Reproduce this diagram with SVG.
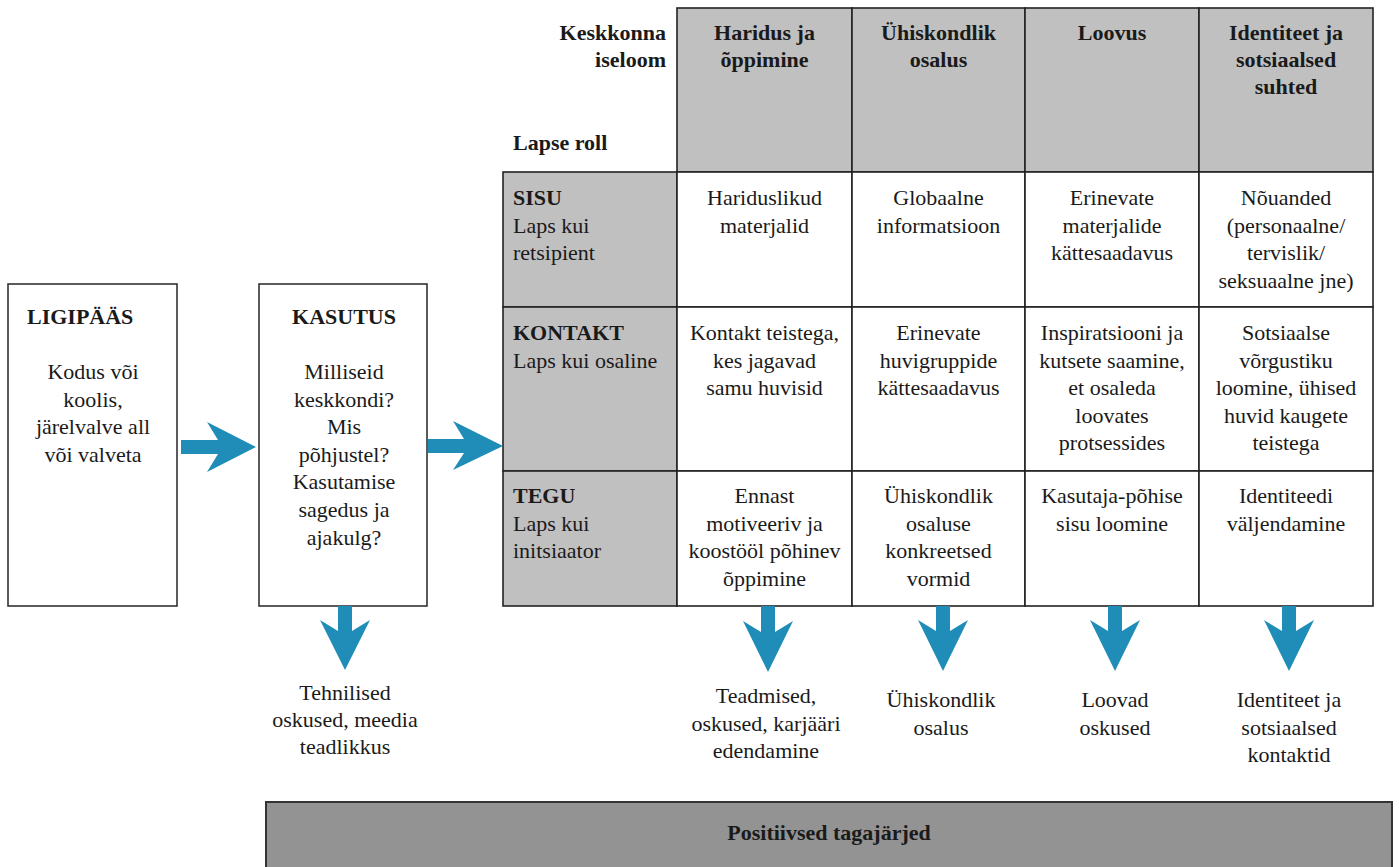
<svg xmlns="http://www.w3.org/2000/svg" width="1399" height="867" viewBox="0 0 1399 867">
  <style>
    text { font-family: "Liberation Serif", "Times New Roman", serif; font-size: 22px; fill: #1a1a1a; }
    .b { font-weight: bold; }
    .c { text-anchor: middle; }
    .r { text-anchor: end; }
    .box { fill: #ffffff; stroke: #333333; stroke-width: 1.6; }
    .hd { fill: #c0c0c0; stroke: #222222; stroke-width: 1.6; }
    .cell { fill: #ffffff; stroke: #222222; stroke-width: 1.6; }
    .pos { fill: #939393; stroke: #333333; stroke-width: 2; }
    .arr { fill: #1f8db7; stroke: none; }
  </style>

  <!-- Access box -->
  <g id="node-ligipaas">
    <rect class="box" x="8" y="284" width="169" height="322"/>
    <text class="b" x="27" y="324">LIGIPÄÄS</text>
    <text class="c" x="93" y="379">Kodus või</text>
    <text class="c" x="93" y="406.5">koolis,</text>
    <text class="c" x="93" y="434">järelvalve all</text>
    <text class="c" x="93" y="461.5">või valveta</text>
  </g>

  <!-- Use box -->
  <g id="node-kasutus">
    <rect class="box" x="259" y="284" width="168" height="322"/>
    <text class="b c" x="344" y="324">KASUTUS</text>
    <text class="c" x="344" y="379">Milliseid</text>
    <text class="c" x="344" y="406.6">keskkondi?</text>
    <text class="c" x="344" y="434.2">Mis</text>
    <text class="c" x="344" y="461.8">põhjustel?</text>
    <text class="c" x="344" y="489.4">Kasutamise</text>
    <text class="c" x="344" y="517">sagedus ja</text>
    <text class="c" x="344" y="544.6">ajakulg?</text>
  </g>

  <!-- Table -->
  <g id="node-table">
    <g id="corner">
      <text class="b r" x="666" y="40">Keskkonna</text>
      <text class="b r" x="666" y="67">iseloom</text>
      <text class="b" x="513" y="150">Lapse roll</text>
    </g>
    <g id="hdr-haridus">
      <rect class="hd" x="677" y="8" width="175" height="164"/>
      <text class="b c" x="764.5" y="40">Haridus ja</text>
      <text class="b c" x="764.5" y="67">õppimine</text>
    </g>
    <g id="hdr-uhiskondlik">
      <rect class="hd" x="852" y="8" width="173" height="164"/>
      <text class="b c" x="938.5" y="40">Ühiskondlik</text>
      <text class="b c" x="938.5" y="67">osalus</text>
    </g>
    <g id="hdr-loovus">
      <rect class="hd" x="1025" y="8" width="174" height="164"/>
      <text class="b c" x="1112" y="40">Loovus</text>
    </g>
    <g id="hdr-identiteet">
      <rect class="hd" x="1199" y="8" width="174" height="164"/>
      <text class="b c" x="1286" y="40">Identiteet ja</text>
      <text class="b c" x="1286" y="67">sotsiaalsed</text>
      <text class="b c" x="1286" y="94">suhted</text>
    </g>

    <g id="row-sisu">
      <rect class="hd" x="503" y="172" width="174" height="135"/>
      <text class="b" x="513" y="205">SISU</text>
      <text x="513" y="232.5">Laps kui</text>
      <text x="513" y="260">retsipient</text>
    </g>
    <g id="row-kontakt">
      <rect class="hd" x="503" y="307" width="174" height="164"/>
      <text class="b" x="513" y="340">KONTAKT</text>
      <text x="513" y="367.5">Laps kui osaline</text>
    </g>
    <g id="row-tegu">
      <rect class="hd" x="503" y="471" width="174" height="135"/>
      <text class="b" x="513" y="503">TEGU</text>
      <text x="513" y="530.5">Laps kui</text>
      <text x="513" y="558">initsiaator</text>
    </g>

    <!-- SISU row cells -->
    <g id="cell-1-1">
      <rect class="cell" x="677" y="172" width="175" height="135"/>
      <text class="c" x="764.5" y="205">Hariduslikud</text>
      <text class="c" x="764.5" y="232.5">materjalid</text>
    </g>
    <g id="cell-1-2">
      <rect class="cell" x="852" y="172" width="173" height="135"/>
      <text class="c" x="938.5" y="205">Globaalne</text>
      <text class="c" x="938.5" y="232.5">informatsioon</text>
    </g>
    <g id="cell-1-3">
      <rect class="cell" x="1025" y="172" width="174" height="135"/>
      <text class="c" x="1112" y="205">Erinevate</text>
      <text class="c" x="1112" y="232.5">materjalide</text>
      <text class="c" x="1112" y="260">kättesaadavus</text>
    </g>
    <g id="cell-1-4">
      <rect class="cell" x="1199" y="172" width="174" height="135"/>
      <text class="c" x="1286" y="205">Nõuanded</text>
      <text class="c" x="1286" y="232.5">(personaalne/</text>
      <text class="c" x="1286" y="260">tervislik/</text>
      <text class="c" x="1286" y="287.5">seksuaalne jne)</text>
    </g>

    <!-- KONTAKT row cells -->
    <g id="cell-2-1">
      <rect class="cell" x="677" y="307" width="175" height="164"/>
      <text class="c" x="764.5" y="340">Kontakt teistega,</text>
      <text class="c" x="764.5" y="367.5">kes jagavad</text>
      <text class="c" x="764.5" y="395">samu huvisid</text>
    </g>
    <g id="cell-2-2">
      <rect class="cell" x="852" y="307" width="173" height="164"/>
      <text class="c" x="938.5" y="340">Erinevate</text>
      <text class="c" x="938.5" y="367.5">huvigruppide</text>
      <text class="c" x="938.5" y="395">kättesaadavus</text>
    </g>
    <g id="cell-2-3">
      <rect class="cell" x="1025" y="307" width="174" height="164"/>
      <text class="c" x="1112" y="340">Inspiratsiooni ja</text>
      <text class="c" x="1112" y="367.5">kutsete saamine,</text>
      <text class="c" x="1112" y="395">et osaleda</text>
      <text class="c" x="1112" y="422.5">loovates</text>
      <text class="c" x="1112" y="450">protsessides</text>
    </g>
    <g id="cell-2-4">
      <rect class="cell" x="1199" y="307" width="174" height="164"/>
      <text class="c" x="1286" y="340">Sotsiaalse</text>
      <text class="c" x="1286" y="367.5">võrgustiku</text>
      <text class="c" x="1286" y="395">loomine, ühised</text>
      <text class="c" x="1286" y="422.5">huvid kaugete</text>
      <text class="c" x="1286" y="450">teistega</text>
    </g>

    <!-- TEGU row cells -->
    <g id="cell-3-1">
      <rect class="cell" x="677" y="471" width="175" height="135"/>
      <text class="c" x="764.5" y="503">Ennast</text>
      <text class="c" x="764.5" y="530.5">motiveeriv ja</text>
      <text class="c" x="764.5" y="558">koostööl põhinev</text>
      <text class="c" x="764.5" y="585.5">õppimine</text>
    </g>
    <g id="cell-3-2">
      <rect class="cell" x="852" y="471" width="173" height="135"/>
      <text class="c" x="938.5" y="503">Ühiskondlik</text>
      <text class="c" x="938.5" y="530.5">osaluse</text>
      <text class="c" x="938.5" y="558">konkreetsed</text>
      <text class="c" x="938.5" y="585.5">vormid</text>
    </g>
    <g id="cell-3-3">
      <rect class="cell" x="1025" y="471" width="174" height="135"/>
      <text class="c" x="1112" y="503">Kasutaja-põhise</text>
      <text class="c" x="1112" y="530.5">sisu loomine</text>
    </g>
    <g id="cell-3-4">
      <rect class="cell" x="1199" y="471" width="174" height="135"/>
      <text class="c" x="1286" y="503">Identiteedi</text>
      <text class="c" x="1286" y="530.5">väljendamine</text>
    </g>
  </g>

  <!-- Outcomes -->
  <g id="out-tehnilised">
    <text class="c" x="345" y="700">Tehnilised</text>
    <text class="c" x="345" y="727">oskused, meedia</text>
    <text class="c" x="345" y="754">teadlikkus</text>
  </g>
  <g id="out-teadmised">
    <text class="c" x="766" y="703">Teadmised,</text>
    <text class="c" x="766" y="730.5">oskused, karjääri</text>
    <text class="c" x="766" y="758">edendamine</text>
  </g>
  <g id="out-uhiskondlik">
    <text class="c" x="941" y="707">Ühiskondlik</text>
    <text class="c" x="941" y="735">osalus</text>
  </g>
  <g id="out-loovad">
    <text class="c" x="1115" y="707">Loovad</text>
    <text class="c" x="1115" y="735">oskused</text>
  </g>
  <g id="out-identiteet">
    <text class="c" x="1289" y="707">Identiteet ja</text>
    <text class="c" x="1289" y="735">sotsiaalsed</text>
    <text class="c" x="1289" y="762">kontaktid</text>
  </g>

  <g id="node-positiivsed">
    <rect class="pos" x="266" y="802" width="1126" height="80"/>
    <text class="b c" x="829" y="840">Positiivsed tagajärjed</text>
  </g>

  <!-- Connectors -->
  <g id="connectors">
    <path class="arr" d="M181,440 L218,440 L207,422 L256,447 L207,472 L218,454 L181,454 Z"/>
    <path class="arr" d="M428,439 L464,439 L453,421 L503,446 L453,470 L464,453 L428,453 Z"/>
    <path class="arr" d="M338,606 L338,631 L320,620 L345,670 L370,620 L352,631 L352,606 Z"/>
    <path class="arr" d="M761,606 L761,632 L743,621 L768,672 L793,621 L775,632 L775,606 Z"/>
    <path class="arr" d="M936,606 L936,631 L918,620 L943,671 L968,620 L950,631 L950,606 Z"/>
    <path class="arr" d="M1108,606 L1108,631 L1090,620 L1115,671 L1140,620 L1122,631 L1122,606 Z"/>
    <path class="arr" d="M1282,606 L1282,631 L1264,620 L1289,671 L1314,620 L1296,631 L1296,606 Z"/>
  </g>
</svg>
